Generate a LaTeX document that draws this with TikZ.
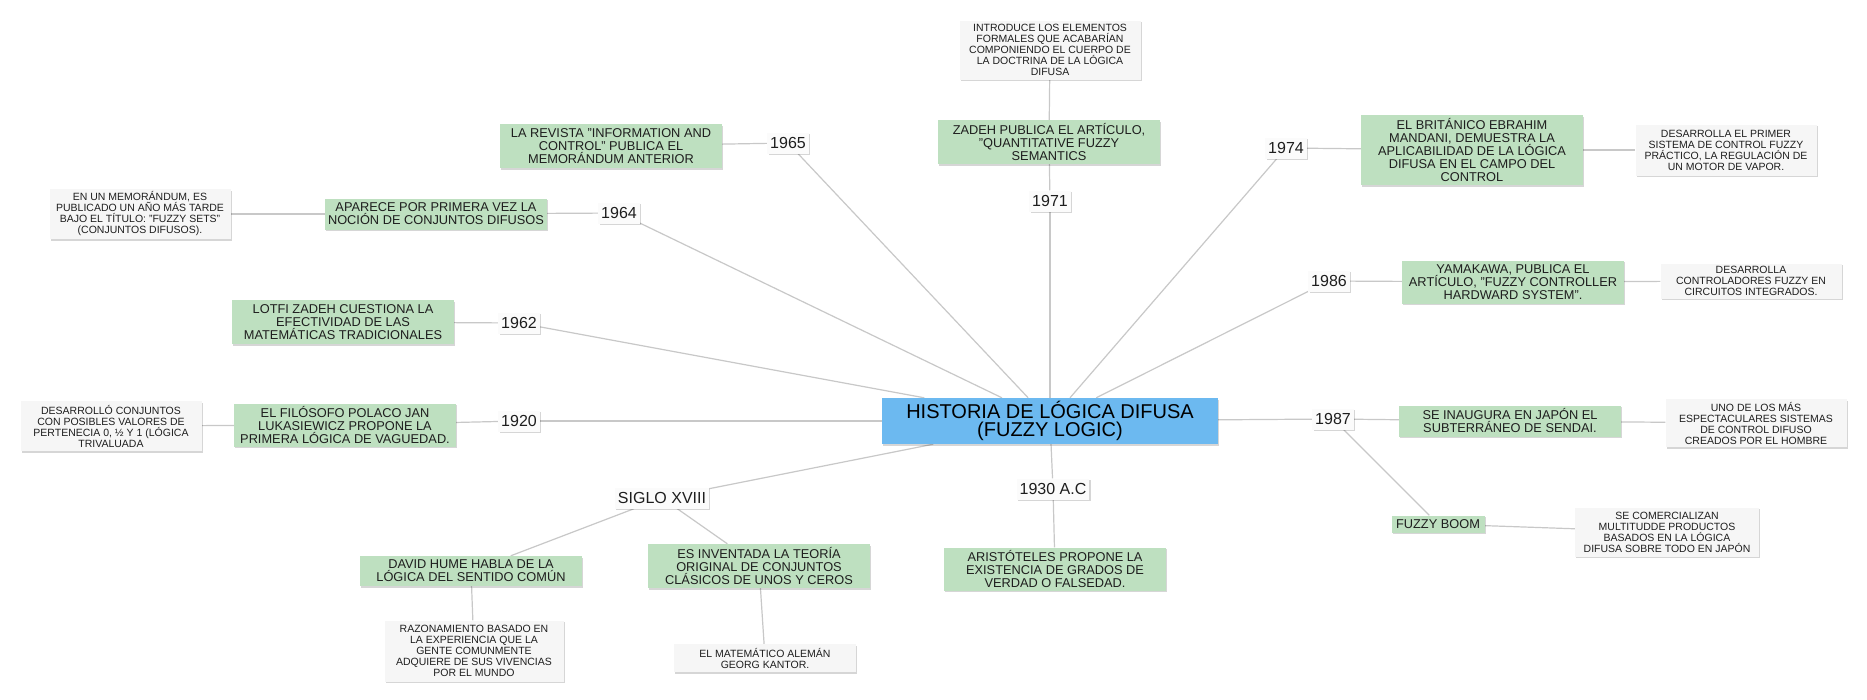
\documentclass[tikz,border=0pt]{standalone}
\usepackage{fontspec}
\setmainfont{Liberation Sans}
\usetikzlibrary{shadows,backgrounds}
\definecolor{gbox}{RGB}{190,224,192}
\definecolor{bbox}{RGB}{108,185,240}
\definecolor{pbox}{RGB}{246,246,246}
\definecolor{ybox}{RGB}{251,251,251}
\definecolor{linkc}{RGB}{200,200,200}
\definecolor{txt}{RGB}{30,30,30}
\tikzset{
  base/.style={inner ysep=0pt, inner xsep=1pt, align=center, text=txt,
    drop shadow={shadow xshift=1.3pt, shadow yshift=-1.6pt, fill=black, opacity=0.16}},
  gnode/.style={base, fill=gbox, minimum width=222pt,
    font=\fontsize{12.8}{13}\selectfont},
  pnode/.style={base, fill=pbox, minimum width=181pt,
    font=\fontsize{10.5}{11}\selectfont},
  ynode/.style={base, fill=ybox, inner xsep=3pt, minimum height=21pt,
    font=\fontsize{16}{16}\selectfont},
  cnode/.style={base, fill=bbox, minimum width=336pt, minimum height=46pt,
    text=black, font=\fontsize{20}{18}\selectfont},
  link/.style={draw=linkc, line width=1.2pt}
}
\begin{document}
\begin{tikzpicture}[x=1pt,y=-1pt]
\useasboundingbox (0,0) rectangle (1867,699);

% central node
\node[cnode] (c) at (1050,421) {HISTORIA DE LÓGICA DIFUSA\\(FUZZY LOGIC)};

% years
\node[ynode] (y65) at (788,143) {1965};
\node[ynode] (y64) at (619,213) {1964};
\node[ynode] (y62) at (519,323) {1962};
\node[ynode] (y20) at (519,421) {1920};
\node[ynode] (s18) at (662,498) {SIGLO XVIII};
\node[ynode] (y30) at (1053,489) {1930 A.C};
\node[ynode] (y71) at (1050,201) {1971};
\node[ynode] (y74) at (1286,148) {1974};
\node[ynode] (y86) at (1329,281) {1986};
\node[ynode] (y87) at (1333,419) {1987};

% green boxes
\node[gnode, minimum height=44pt] (revista) at (611,146) {LA REVISTA "INFORMATION AND\\CONTROL" PUBLICA EL\\MEMORÁNDUM ANTERIOR};
\node[gnode, minimum height=31pt] (aparece) at (436,214) {APARECE POR PRIMERA VEZ LA\\NOCIÓN DE CONJUNTOS DIFUSOS};
\node[gnode, minimum height=44pt] (lotfi) at (343,322) {LOTFI ZADEH CUESTIONA LA\\EFECTIVIDAD DE LAS\\MATEMÁTICAS TRADICIONALES};
\node[gnode, minimum height=43pt] (filosofo) at (345,425) {EL FILÓSOFO POLACO JAN\\LUKASIEWICZ PROPONE LA\\PRIMERA LÓGICA DE VAGUEDAD.};
\node[gnode, minimum height=30pt] (hume) at (471,571) {DAVID HUME HABLA DE LA\\LÓGICA DEL SENTIDO COMÚN};
\node[gnode, minimum height=44pt] (inventada) at (759,566) {ES INVENTADA LA TEORÍA\\ORIGINAL DE CONJUNTOS\\CLÁSICOS DE UNOS Y CEROS};
\node[gnode, minimum height=43pt] (aristo) at (1055,569) {ARISTÓTELES PROPONE LA\\EXISTENCIA DE GRADOS DE\\VERDAD O FALSEDAD.};
\node[gnode, minimum height=44pt] (zadeh) at (1049,142) {ZADEH PUBLICA EL ARTÍCULO,\\"QUANTITATIVE FUZZY\\SEMANTICS};
\node[gnode, minimum height=70pt] (brit) at (1472,150) {EL BRITÁNICO EBRAHIM\\MANDANI, DEMUESTRA LA\\APLICABILIDAD DE LA LÓGICA\\DIFUSA EN EL CAMPO DEL\\CONTROL};
\node[gnode, minimum height=43pt] (yamakawa) at (1513,282) {YAMAKAWA, PUBLICA EL\\ARTÍCULO, "FUZZY CONTROLLER\\HARDWARD SYSTEM".};
\node[gnode, minimum height=31pt] (inaugura) at (1510,421) {SE INAUGURA EN JAPÓN EL\\SUBTERRÁNEO DE SENDAI.};
\node[gnode, minimum width=93pt, minimum height=17pt] (boom) at (1438,524) {FUZZY BOOM};

% grey boxes
\node[pnode, minimum height=50pt] (memo) at (140,214) {EN UN MEMORÁNDUM, ES\\PUBLICADO UN AÑO MÁS TARDE\\BAJO EL TÍTULO: "FUZZY SETS"\\(CONJUNTOS DIFUSOS).};
\node[pnode, minimum height=59pt] (introduce) at (1050,50) {INTRODUCE LOS ELEMENTOS\\FORMALES QUE ACABARÍAN\\COMPONIENDO EL CUERPO DE\\LA DOCTRINA DE LA LÓGICA\\DIFUSA};
\node[pnode, minimum height=51pt] (primer) at (1726,150) {DESARROLLA EL PRIMER\\SISTEMA DE CONTROL FUZZY\\PRÁCTICO, LA REGULACIÓN DE\\UN MOTOR DE VAPOR.};
\node[pnode, minimum height=35pt] (control) at (1751,281) {DESARROLLA\\CONTROLADORES FUZZY EN\\CIRCUITOS INTEGRADOS.};
\node[pnode, minimum height=48pt] (unode) at (1756,423) {UNO DE LOS MÁS\\ESPECTACULARES SISTEMAS\\DE CONTROL DIFUSO\\CREADOS POR EL HOMBRE};
\node[pnode, minimum width=184pt, minimum height=49pt] (comer) at (1667,532) {SE COMERCIALIZAN\\MULTITUDDE PRODUCTOS\\BASADOS EN LA LÓGICA\\DIFUSA SOBRE TODO EN JAPÓN};
\node[pnode, minimum height=50pt] (desarrollo) at (111,426) {DESARROLLÓ CONJUNTOS\\CON POSIBLES VALORES DE\\PERTENECIA 0, ½ Y 1 (LÓGICA\\TRIVALUADA};
\node[pnode, minimum width=179pt, minimum height=61pt] (razon) at (474,651) {RAZONAMIENTO BASADO EN\\LA EXPERIENCIA QUE LA\\GENTE COMUNMENTE\\ADQUIERE DE SUS VIVENCIAS\\POR EL MUNDO};
\node[pnode, minimum width=182pt, minimum height=28pt] (kantor) at (765,658) {EL MATEMÁTICO ALEMÁN\\GEORG KANTOR.};

\begin{scope}[on background layer]
\fill[white] (0,0) rectangle (1867,699);
% center to years
\foreach \y in {y65,y64,y62,y20,s18,y30,y71,y74,y86,y87}
  \draw[link] (c) -- (\y);
% years to events
\draw[link] (y65) -- (revista);
\draw[link] (y64) -- (aparece);
\draw[link] (aparece) -- (memo);
\draw[link] (y62) -- (lotfi);
\draw[link] (y20) -- (filosofo);
\draw[link] (filosofo) -- (desarrollo);
\draw[link] (s18) -- (hume);
\draw[link] (hume) -- (razon);
\draw[link] (s18) -- (inventada);
\draw[link] (inventada) -- (kantor);
\draw[link] (y30) -- (aristo);
\draw[link] (y71) -- (zadeh);
\draw[link] (zadeh) -- (introduce);
\draw[link] (y74) -- (brit);
\draw[link] (brit) -- (primer);
\draw[link] (y86) -- (yamakawa);
\draw[link] (yamakawa) -- (control);
\draw[link] (y87) -- (inaugura);
\draw[link] (inaugura) -- (unode);
\draw[link] (y87) -- (boom);
\draw[link] (boom) -- (comer);
\end{scope}
\end{tikzpicture}
\end{document}
